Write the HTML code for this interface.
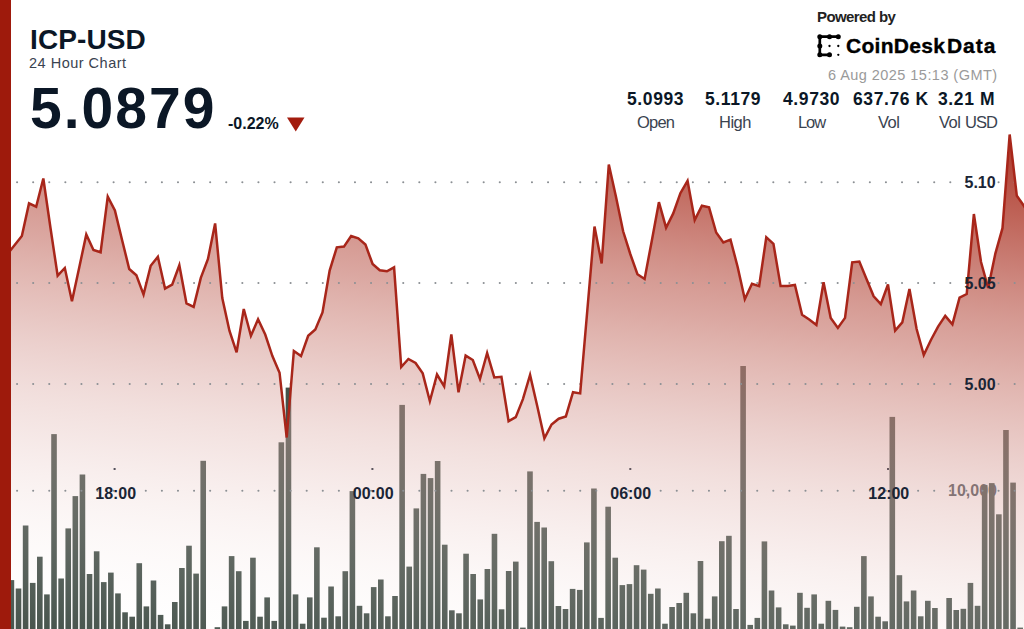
<!DOCTYPE html>
<html><head><meta charset="utf-8">
<style>
html,body{margin:0;padding:0;background:#fff;}
body{width:1024px;height:629px;position:relative;overflow:hidden;font-family:"Liberation Sans",sans-serif;}
.t{position:absolute;white-space:nowrap;line-height:1;}
.navy{color:#0b1726;}
</style></head><body>
<svg width="1024" height="629" style="position:absolute;left:0;top:0">
<defs>
<linearGradient id="g" gradientUnits="userSpaceOnUse" x1="434.4" y1="692.4" x2="512" y2="44"><stop offset="0" stop-color="rgb(255,255,255)" stop-opacity="0"/><stop offset="0.04" stop-color="rgb(251,246,245)" stop-opacity="0.04"/><stop offset="0.08" stop-color="rgb(247,236,235)" stop-opacity="0.08"/><stop offset="0.12" stop-color="rgb(243,227,225)" stop-opacity="0.12"/><stop offset="0.17" stop-color="rgb(240,218,215)" stop-opacity="0.17"/><stop offset="0.21" stop-color="rgb(236,208,205)" stop-opacity="0.21"/><stop offset="0.25" stop-color="rgb(232,199,195)" stop-opacity="0.25"/><stop offset="0.29" stop-color="rgb(228,189,185)" stop-opacity="0.29"/><stop offset="0.33" stop-color="rgb(224,180,175)" stop-opacity="0.33"/><stop offset="0.38" stop-color="rgb(220,171,165)" stop-opacity="0.38"/><stop offset="0.42" stop-color="rgb(216,161,155)" stop-opacity="0.42"/><stop offset="0.46" stop-color="rgb(212,152,145)" stop-opacity="0.46"/><stop offset="0.5" stop-color="rgb(208,142,134)" stop-opacity="0.5"/><stop offset="0.54" stop-color="rgb(205,133,124)" stop-opacity="0.54"/><stop offset="0.58" stop-color="rgb(201,124,114)" stop-opacity="0.58"/><stop offset="0.62" stop-color="rgb(197,114,104)" stop-opacity="0.62"/><stop offset="0.67" stop-color="rgb(193,105,94)" stop-opacity="0.67"/><stop offset="0.71" stop-color="rgb(189,96,84)" stop-opacity="0.71"/><stop offset="0.75" stop-color="rgb(185,86,74)" stop-opacity="0.75"/><stop offset="0.79" stop-color="rgb(181,77,64)" stop-opacity="0.79"/><stop offset="0.83" stop-color="rgb(178,68,54)" stop-opacity="0.83"/><stop offset="0.88" stop-color="rgb(174,58,44)" stop-opacity="0.88"/><stop offset="0.92" stop-color="rgb(170,49,34)" stop-opacity="0.92"/><stop offset="0.96" stop-color="rgb(166,39,24)" stop-opacity="0.96"/><stop offset="1" stop-color="rgb(162,30,14)" stop-opacity="1"/></linearGradient>
</defs>
<text x="948" y="496" font-family="Liberation Sans" font-weight="bold" font-size="16" fill="#4a5258">10,000</text>
<g fill="#1a2535">
<rect x="113.6" y="468" width="2" height="2"/>
<rect x="371.4" y="468" width="2" height="2"/>
<rect x="629.3" y="468" width="2" height="2"/>
<rect x="887" y="468" width="2" height="2"/>
</g>
<g fill="#44514a"><rect x="8.6" y="580.1" width="5.6" height="48.9"/><rect x="15.7" y="588.5" width="5.6" height="40.5"/><rect x="22.81" y="525.5" width="5.6" height="103.5"/><rect x="29.91" y="582.9" width="5.6" height="46.1"/><rect x="37.02" y="556.7" width="5.6" height="72.3"/><rect x="44.12" y="594.4" width="5.6" height="34.6"/><rect x="51.22" y="434.1" width="5.6" height="194.9"/><rect x="58.33" y="578.5" width="5.6" height="50.5"/><rect x="65.43" y="528.4" width="5.6" height="100.6"/><rect x="72.54" y="496.1" width="5.6" height="132.9"/><rect x="79.64" y="474.5" width="5.6" height="154.5"/><rect x="86.74" y="574" width="5.6" height="55"/><rect x="93.85" y="551.3" width="5.6" height="77.7"/><rect x="100.95" y="582.1" width="5.6" height="46.9"/><rect x="108.06" y="572.6" width="5.6" height="56.4"/><rect x="115.16" y="593.4" width="5.6" height="35.6"/><rect x="122.26" y="612.3" width="5.6" height="16.7"/><rect x="129.37" y="616.7" width="5.6" height="12.3"/><rect x="136.47" y="563.2" width="5.6" height="65.8"/><rect x="143.58" y="606.4" width="5.6" height="22.6"/><rect x="150.68" y="580.5" width="5.6" height="48.5"/><rect x="157.78" y="614.9" width="5.6" height="14.1"/><rect x="164.89" y="624.3" width="5.6" height="4.7"/><rect x="171.99" y="602" width="5.6" height="27"/><rect x="179.1" y="568" width="5.6" height="61"/><rect x="186.2" y="545.7" width="5.6" height="83.3"/><rect x="193.3" y="573.6" width="5.6" height="55.4"/><rect x="200.41" y="460.8" width="5.6" height="168.2"/><rect x="214.62" y="627.2" width="5.6" height="1.8"/><rect x="221.72" y="606.4" width="5.6" height="22.6"/><rect x="228.82" y="556.1" width="5.6" height="72.9"/><rect x="235.93" y="571.2" width="5.6" height="57.8"/><rect x="243.03" y="620.9" width="5.6" height="8.1"/><rect x="250.14" y="557.7" width="5.6" height="71.3"/><rect x="257.24" y="616.7" width="5.6" height="12.3"/><rect x="264.34" y="597.4" width="5.6" height="31.6"/><rect x="271.45" y="620.9" width="5.6" height="8.1"/><rect x="278.55" y="442.3" width="5.6" height="186.7"/><rect x="285.66" y="387.6" width="5.6" height="241.4"/><rect x="292.76" y="594.4" width="5.6" height="34.6"/><rect x="299.86" y="623.7" width="5.6" height="5.3"/><rect x="306.97" y="597.4" width="5.6" height="31.6"/><rect x="314.07" y="547.3" width="5.6" height="81.7"/><rect x="321.18" y="617.7" width="5.6" height="11.3"/><rect x="328.28" y="586.5" width="5.6" height="42.5"/><rect x="335.38" y="616.3" width="5.6" height="12.7"/><rect x="342.49" y="571.2" width="5.6" height="57.8"/><rect x="349.59" y="491.1" width="5.6" height="137.9"/><rect x="356.7" y="605.8" width="5.6" height="23.2"/><rect x="363.8" y="613.3" width="5.6" height="15.7"/><rect x="370.9" y="587.1" width="5.6" height="41.9"/><rect x="378.01" y="579.5" width="5.6" height="49.5"/><rect x="385.11" y="616.3" width="5.6" height="12.7"/><rect x="392.22" y="596" width="5.6" height="33"/><rect x="399.32" y="404.9" width="5.6" height="224.1"/><rect x="406.42" y="566.6" width="5.6" height="62.4"/><rect x="413.53" y="508.4" width="5.6" height="120.6"/><rect x="420.63" y="473.9" width="5.6" height="155.1"/><rect x="427.74" y="478.1" width="5.6" height="150.9"/><rect x="434.84" y="461" width="5.6" height="168"/><rect x="441.94" y="544.7" width="5.6" height="84.3"/><rect x="449.05" y="610.3" width="5.6" height="18.7"/><rect x="456.15" y="613.3" width="5.6" height="15.7"/><rect x="463.26" y="553.7" width="5.6" height="75.3"/><rect x="470.36" y="574" width="5.6" height="55"/><rect x="477.46" y="599.4" width="5.6" height="29.6"/><rect x="484.57" y="569" width="5.6" height="60"/><rect x="491.67" y="533.8" width="5.6" height="95.2"/><rect x="498.78" y="609.3" width="5.6" height="19.7"/><rect x="505.88" y="571" width="5.6" height="58"/><rect x="512.98" y="561.6" width="5.6" height="67.4"/><rect x="520.09" y="627.6" width="5.6" height="1.4"/><rect x="527.19" y="471.4" width="5.6" height="157.6"/><rect x="534.3" y="521.9" width="5.6" height="107.1"/><rect x="541.4" y="527.5" width="5.6" height="101.5"/><rect x="548.5" y="561.2" width="5.6" height="67.8"/><rect x="555.61" y="606" width="5.6" height="23"/><rect x="562.71" y="609" width="5.6" height="20"/><rect x="569.82" y="588.9" width="5.6" height="40.1"/><rect x="576.92" y="589.9" width="5.6" height="39.1"/><rect x="584.02" y="542.4" width="5.6" height="86.6"/><rect x="591.13" y="488.5" width="5.6" height="140.5"/><rect x="598.23" y="617.9" width="5.6" height="11.1"/><rect x="605.34" y="506.7" width="5.6" height="122.3"/><rect x="612.44" y="557.7" width="5.6" height="71.3"/><rect x="619.54" y="585.1" width="5.6" height="43.9"/><rect x="626.65" y="584.1" width="5.6" height="44.9"/><rect x="633.75" y="565.2" width="5.6" height="63.8"/><rect x="640.86" y="569.6" width="5.6" height="59.4"/><rect x="647.96" y="593.8" width="5.6" height="35.2"/><rect x="655.06" y="588.5" width="5.6" height="40.5"/><rect x="662.17" y="623.7" width="5.6" height="5.3"/><rect x="669.27" y="607" width="5.6" height="22"/><rect x="676.38" y="603" width="5.6" height="26"/><rect x="683.48" y="592.8" width="5.6" height="36.2"/><rect x="690.58" y="613.3" width="5.6" height="15.7"/><rect x="697.69" y="561" width="5.6" height="68"/><rect x="704.79" y="618.7" width="5.6" height="10.3"/><rect x="711.9" y="596.4" width="5.6" height="32.6"/><rect x="719" y="541.2" width="5.6" height="87.8"/><rect x="726.1" y="535.8" width="5.6" height="93.2"/><rect x="733.21" y="609" width="5.6" height="20"/><rect x="740.31" y="366" width="5.6" height="263"/><rect x="747.42" y="624.9" width="5.6" height="4.1"/><rect x="754.52" y="617.9" width="5.6" height="11.1"/><rect x="761.62" y="541.4" width="5.6" height="87.6"/><rect x="768.73" y="590.5" width="5.6" height="38.5"/><rect x="775.83" y="607.4" width="5.6" height="21.6"/><rect x="782.94" y="624.3" width="5.6" height="4.7"/><rect x="790.04" y="625.6" width="5.6" height="3.4"/><rect x="797.14" y="592.8" width="5.6" height="36.2"/><rect x="804.25" y="607.8" width="5.6" height="21.2"/><rect x="811.35" y="594.4" width="5.6" height="34.6"/><rect x="818.46" y="623.7" width="5.6" height="5.3"/><rect x="825.56" y="600.8" width="5.6" height="28.2"/><rect x="832.66" y="609.9" width="5.6" height="19.1"/><rect x="839.77" y="626.6" width="5.6" height="2.4"/><rect x="846.87" y="627.2" width="5.6" height="1.8"/><rect x="853.98" y="606.8" width="5.6" height="22.2"/><rect x="861.08" y="556.1" width="5.6" height="72.9"/><rect x="868.18" y="596.4" width="5.6" height="32.6"/><rect x="875.29" y="616.7" width="5.6" height="12.3"/><rect x="882.39" y="621.3" width="5.6" height="7.7"/><rect x="889.5" y="416.9" width="5.6" height="212.1"/><rect x="896.6" y="575.2" width="5.6" height="53.8"/><rect x="903.7" y="601.4" width="5.6" height="27.6"/><rect x="910.81" y="590.5" width="5.6" height="38.5"/><rect x="917.91" y="616.3" width="5.6" height="12.7"/><rect x="925.02" y="600.8" width="5.6" height="28.2"/><rect x="932.12" y="608" width="5.6" height="21"/><rect x="946.33" y="598" width="5.6" height="31"/><rect x="953.43" y="610" width="5.6" height="19"/><rect x="960.54" y="608.8" width="5.6" height="20.2"/><rect x="967.64" y="582.9" width="5.6" height="46.1"/><rect x="974.74" y="605.8" width="5.6" height="23.2"/><rect x="981.85" y="485" width="5.6" height="144"/><rect x="988.95" y="483.1" width="5.6" height="145.9"/><rect x="996.06" y="514.3" width="5.6" height="114.7"/><rect x="1003.16" y="430" width="5.6" height="199"/><rect x="1010.26" y="482.6" width="5.6" height="146.4"/><rect x="1017.37" y="627.6" width="5.6" height="1.4"/></g>
<path d="M7.54 629 L7.54 254 L14.7 245 L21.86 236 L29.02 203.4 L36.17 206.7 L43.33 178.5 L50.49 228 L57.65 275.7 L64.81 268 L71.96 301.3 L79.12 268 L86.28 234.5 L93.44 250 L100.6 252.3 L107.75 196.7 L114.91 210.5 L122.07 240 L129.23 269 L136.39 275.3 L143.54 294.6 L150.7 265.7 L157.86 256.8 L165.02 288.6 L172.18 284.6 L179.33 265.2 L186.49 303.5 L193.65 306.9 L200.81 277.9 L207.97 259 L215.12 223.4 L222.28 298 L229.44 330.7 L236.6 352.3 L243.76 309 L250.91 335.8 L258.07 319.3 L265.23 334.5 L272.39 356.1 L279.55 372.7 L286.7 437.5 L293.86 351 L301.02 356.1 L308.18 335.8 L315.34 329.4 L322.49 312.5 L329.65 270.6 L336.81 247.3 L343.97 246.6 L351.13 236.1 L358.28 238.4 L365.44 244.6 L372.6 264 L379.76 270.2 L386.92 271.3 L394.07 267.3 L401.23 367 L408.39 359 L415.55 363 L422.71 373.4 L429.86 401.2 L437.02 374.5 L444.18 386.3 L451.34 334.5 L458.5 392.3 L465.65 355.6 L472.81 360 L479.97 379 L487.13 353 L494.29 377.4 L501.44 376.8 L508.6 421.2 L515.76 417.2 L522.92 399.1 L530.08 374.9 L537.23 406 L544.39 438.3 L551.55 424.5 L558.71 418.7 L565.87 416.4 L573.02 392.2 L580.18 393.4 L587.34 310 L594.5 226.5 L601.66 263.5 L608.81 164.5 L615.97 196.7 L623.13 231.3 L630.29 254 L637.45 274.2 L644.6 279 L651.76 240.9 L658.92 202.2 L666.08 227.7 L673.24 213.4 L680.39 193.2 L687.55 180.8 L694.71 220 L701.87 205.7 L709.03 207.4 L716.18 232.5 L723.34 242.5 L730.5 239.6 L737.66 267 L744.82 299.2 L751.97 283.7 L759.13 286.1 L766.29 237.2 L773.45 243.9 L780.61 286.1 L787.76 286.1 L794.92 284.9 L802.08 314.7 L809.24 319.5 L816.4 325 L823.55 282.3 L830.71 317.9 L837.87 327.9 L845.03 317.9 L852.19 262.3 L859.34 261.6 L866.5 279 L873.66 296.3 L880.82 304.1 L887.98 284.5 L895.13 330.6 L902.29 322.4 L909.45 289 L916.61 329 L923.77 355 L930.92 340 L938.08 326.6 L945.24 315.9 L952.4 324.4 L959.56 297.6 L966.71 294 L973.87 214 L981.03 262 L988.19 288 L995.35 253.6 L1002.5 228.2 L1009.66 134.5 L1016.82 195.8 L1023.98 206 L1031.14 218 L1031.14 629 Z" fill="url(#g)"/>
<g stroke="#8c9094" stroke-width="2.1" stroke-linecap="round" stroke-dasharray="0 16.09">
<line x1="17.08" y1="182.3" x2="1024" y2="182.3"/>
<line x1="17.08" y1="283" x2="1024" y2="283"/>
<line x1="17.08" y1="384" x2="1024" y2="384"/>
<line x1="17.08" y1="490.8" x2="1024" y2="490.8"/>
</g>

<path d="M7.54 254 L14.7 245 L21.86 236 L29.02 203.4 L36.17 206.7 L43.33 178.5 L50.49 228 L57.65 275.7 L64.81 268 L71.96 301.3 L79.12 268 L86.28 234.5 L93.44 250 L100.6 252.3 L107.75 196.7 L114.91 210.5 L122.07 240 L129.23 269 L136.39 275.3 L143.54 294.6 L150.7 265.7 L157.86 256.8 L165.02 288.6 L172.18 284.6 L179.33 265.2 L186.49 303.5 L193.65 306.9 L200.81 277.9 L207.97 259 L215.12 223.4 L222.28 298 L229.44 330.7 L236.6 352.3 L243.76 309 L250.91 335.8 L258.07 319.3 L265.23 334.5 L272.39 356.1 L279.55 372.7 L286.7 437.5 L293.86 351 L301.02 356.1 L308.18 335.8 L315.34 329.4 L322.49 312.5 L329.65 270.6 L336.81 247.3 L343.97 246.6 L351.13 236.1 L358.28 238.4 L365.44 244.6 L372.6 264 L379.76 270.2 L386.92 271.3 L394.07 267.3 L401.23 367 L408.39 359 L415.55 363 L422.71 373.4 L429.86 401.2 L437.02 374.5 L444.18 386.3 L451.34 334.5 L458.5 392.3 L465.65 355.6 L472.81 360 L479.97 379 L487.13 353 L494.29 377.4 L501.44 376.8 L508.6 421.2 L515.76 417.2 L522.92 399.1 L530.08 374.9 L537.23 406 L544.39 438.3 L551.55 424.5 L558.71 418.7 L565.87 416.4 L573.02 392.2 L580.18 393.4 L587.34 310 L594.5 226.5 L601.66 263.5 L608.81 164.5 L615.97 196.7 L623.13 231.3 L630.29 254 L637.45 274.2 L644.6 279 L651.76 240.9 L658.92 202.2 L666.08 227.7 L673.24 213.4 L680.39 193.2 L687.55 180.8 L694.71 220 L701.87 205.7 L709.03 207.4 L716.18 232.5 L723.34 242.5 L730.5 239.6 L737.66 267 L744.82 299.2 L751.97 283.7 L759.13 286.1 L766.29 237.2 L773.45 243.9 L780.61 286.1 L787.76 286.1 L794.92 284.9 L802.08 314.7 L809.24 319.5 L816.4 325 L823.55 282.3 L830.71 317.9 L837.87 327.9 L845.03 317.9 L852.19 262.3 L859.34 261.6 L866.5 279 L873.66 296.3 L880.82 304.1 L887.98 284.5 L895.13 330.6 L902.29 322.4 L909.45 289 L916.61 329 L923.77 355 L930.92 340 L938.08 326.6 L945.24 315.9 L952.4 324.4 L959.56 297.6 L966.71 294 L973.87 214 L981.03 262 L988.19 288 L995.35 253.6 L1002.5 228.2 L1009.66 134.5 L1016.82 195.8 L1023.98 206 L1031.14 218" fill="none" stroke="#a8261a" stroke-width="2.5" stroke-linejoin="miter" stroke-miterlimit="4"/>
<g font-family="Liberation Sans" font-weight="bold" font-size="16" fill="#1a2535" text-anchor="middle">
<text x="115.7" y="499">18:00</text>
<text x="373.2" y="499">00:00</text>
<text x="630.7" y="499">06:00</text>
<text x="888.8" y="499">12:00</text>
</g>
<g font-family="Liberation Sans" font-weight="bold" font-size="16" fill="#1a2535" text-anchor="start">
<text x="964.5" y="188.2">5.10</text>
<text x="964.5" y="289.4">5.05</text>
<text x="964.5" y="390.2">5.00</text>
</g>
</svg>
<div style="position:absolute;left:0;top:0;width:11px;height:629px;background:#9e1a0c"></div>
<div class="t navy" style="left:30px;top:26px;font-size:28px;font-weight:bold;letter-spacing:0.1px">ICP-USD</div>
<div class="t" style="left:29px;top:56px;font-size:14.5px;color:#3a4350;letter-spacing:0.5px">24 Hour Chart</div>
<div class="t navy" style="left:30px;top:80px;font-size:57px;font-weight:bold;letter-spacing:2px">5.0879</div>
<div class="t navy" style="left:228px;top:116px;font-size:16px;font-weight:bold">-0.22%</div>
<svg style="position:absolute;left:286px;top:117px" width="20" height="16"><path d="M1 0.5 L18.5 0.5 L9.75 14.5 Z" fill="#a31c0e"/></svg>
<div class="t" style="left:817px;top:9px;font-size:15px;font-weight:bold;color:#222;letter-spacing:-0.6px">Powered by</div>
<svg style="position:absolute;left:812px;top:30px" width="32" height="32">
<g stroke="#000" stroke-width="2.7" fill="none" stroke-linecap="round"><path d="M26.3 6.7 L7.8 6.7 L7.8 24.8 L17.5 24.8"/></g>
<g fill="#000"><circle cx="7.8" cy="6.7" r="2.5"/><circle cx="17.5" cy="6.7" r="2.5"/><circle cx="26.3" cy="6.7" r="2.5"/>
<circle cx="7.8" cy="16" r="2.5"/><circle cx="7.8" cy="24.8" r="2.5"/><circle cx="17.5" cy="24.8" r="2.5"/>
<circle cx="17.5" cy="16" r="1.15"/><circle cx="26.3" cy="16" r="1.15"/><circle cx="26.3" cy="24.8" r="1.15"/></g>
</svg>
<div class="t" style="left:846px;top:35px;font-size:21px;font-weight:bold;color:#000;letter-spacing:0.3px;-webkit-text-stroke:0.35px #000">CoinDesk</div>
<div class="t" style="left:947px;top:35px;font-size:21px;font-weight:bold;color:#000;letter-spacing:0.95px;-webkit-text-stroke:0.35px #000">Data</div>
<div class="t" style="left:828px;top:68px;font-size:14.5px;color:#9a9a9a;letter-spacing:0.45px">6 Aug 2025 15:13 (GMT)</div>
<div class="t navy" style="left:627px;top:91px;font-size:17.5px;font-weight:bold;letter-spacing:0.6px">5.0993</div>
<div class="t navy" style="left:705px;top:91px;font-size:17.5px;font-weight:bold;letter-spacing:0.6px">5.1179</div>
<div class="t navy" style="left:783px;top:91px;font-size:17.5px;font-weight:bold;letter-spacing:0.6px">4.9730</div>
<div class="t navy" style="left:853px;top:91px;font-size:17.5px;font-weight:bold;letter-spacing:0.6px">637.76 K</div>
<div class="t navy" style="left:938px;top:91px;font-size:17.5px;font-weight:bold;letter-spacing:0.6px">3.21 M</div>
<div class="t" style="left:637px;top:113.5px;font-size:16.5px;color:#3a4350;letter-spacing:-0.8px">Open</div>
<div class="t" style="left:719px;top:113.5px;font-size:16.5px;color:#3a4350;letter-spacing:-0.5px">High</div>
<div class="t" style="left:798px;top:113.5px;font-size:16.5px;color:#3a4350;letter-spacing:-1.1px">Low</div>
<div class="t" style="left:878px;top:113.5px;font-size:16.5px;color:#3a4350;letter-spacing:-0.5px">Vol</div>
<div class="t" style="left:939px;top:113.5px;font-size:16.5px;color:#3a4350;letter-spacing:-0.5px">Vol</div>
<div class="t" style="left:965px;top:113.5px;font-size:16.5px;color:#3a4350;letter-spacing:-0.9px">USD</div>
</body></html>
